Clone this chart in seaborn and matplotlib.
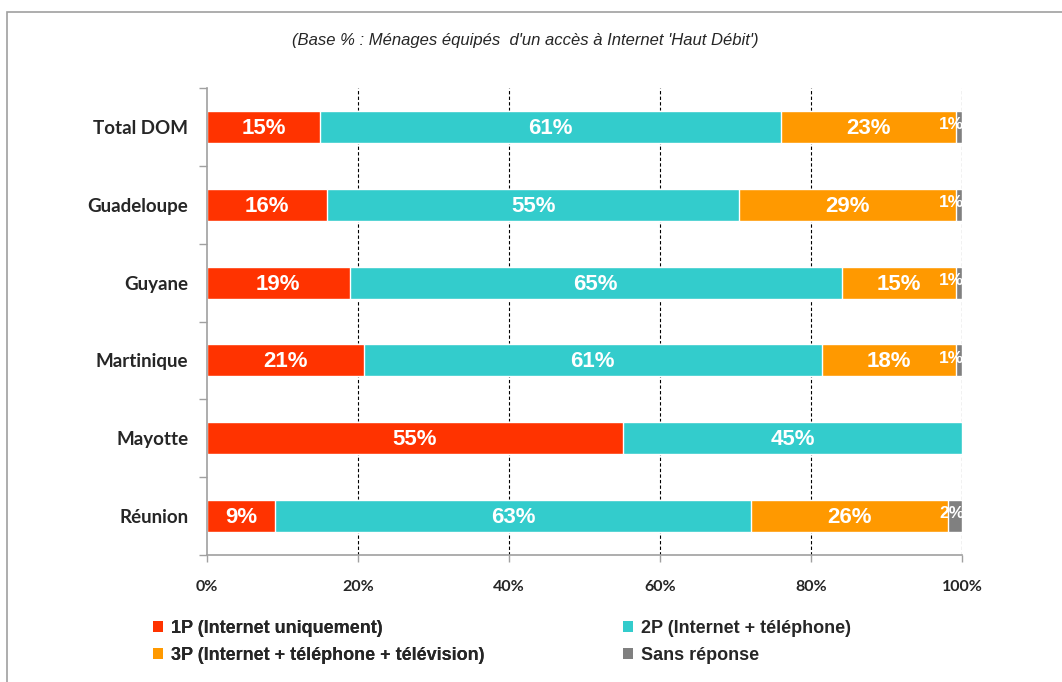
import matplotlib
matplotlib.use("Agg")
import matplotlib.pyplot as plt
import seaborn as sns
import numpy as np
from matplotlib.patches import Patch, Rectangle

# --- Données ---
regions = ["Total DOM", "Guadeloupe", "Guyane", "Martinique", "Mayotte", "Réunion"]
p1 = [15.0, 15.9, 18.9, 20.8, 55.1, 9.0]      # 1P (Internet uniquement)
p2 = [61.0, 54.6, 65.2, 60.6, 44.9, 63.1]     # 2P (Internet + téléphone)
p3 = [23.2, 28.7, 15.1, 17.8, 0.0, 26.0]      # 3P (Internet + téléphone + télévision)
sr = [0.8, 0.8, 0.8, 0.8, 0.0, 1.9]           # Sans réponse

series_labels = ["1P (Internet uniquement)", "2P (Internet + téléphone)",
                 "3P (Internet + téléphone + télévision)", "Sans réponse"]
couleurs = ["#FF3300", "#33CCCC", "#FF9900", "#808080"]
xticks = [0, 20, 40, 60, 80, 100]

sns.set_theme(style="white")
plt.rcParams["font.family"] = ["Liberation Sans", "DejaVu Sans"]

fig = plt.figure(figsize=(10.62, 6.82), dpi=100)
ax = fig.add_axes([207 / 1062, 1 - 555 / 682, 755 / 1062, 467 / 682])

# empilement : on trace les cumuls du plus grand au plus petit
series = [np.array(p1), np.array(p2), np.array(p3), np.array(sr)]
cumul = np.cumsum(series, axis=0)
for i in range(3, -1, -1):
    sns.barplot(x=cumul[i], y=regions, color=couleurs[i], orient="h",
                width=0.41, saturation=1, ax=ax, zorder=2)

# étiquettes des segments
for j in range(len(regions)):
    gauche = 0
    for i, s in enumerate(series):
        v = s[j]
        if v > 0:
            txt = f"{int(round(v))}%"
            if v < 3:
                ax.text(100.3, j - 0.03, txt, ha="right", va="center", color="white",
                        fontsize=12.5, fontweight="bold", zorder=4)
            else:
                ax.text(gauche + v / 2, j + 0.02, txt, ha="center", va="center", color="white",
                        fontsize=16, fontweight="bold", zorder=4)
        gauche += v

ax.set_xlim(0, 100)
ax.set_ylim(5.5, -0.5)
ax.set_xticks(xticks)
ax.set_xticklabels([f"{t}%" for t in xticks], fontsize=11.5, fontweight="bold",
                   family=["Lato", "DejaVu Sans"])
ax.set_yticks(range(len(regions)))
ax.set_yticklabels(regions, fontsize=13.5, fontweight="bold", family=["Lato", "DejaVu Sans"])
ax.set_yticks(np.arange(-0.5, len(regions)), minor=True)
ax.tick_params(axis="y", which="major", length=0, pad=13.5)
ax.tick_params(axis="y", which="minor", length=6, color="#A0A0A0", width=1, left=True)
ax.tick_params(axis="x", which="major", length=5, color="#A0A0A0", width=1, bottom=True, pad=13)
ax.set_xlabel("")
ax.set_ylabel("")

for k in ["top", "right"]:
    ax.spines[k].set_visible(False)
for k in ["left", "bottom"]:
    ax.spines[k].set_color("#A0A0A0")
    ax.spines[k].set_linewidth(1.2)

ax.set_axisbelow(True)
for t in xticks[1:]:
    ax.axvline(t, color="black", linestyle=(0, (3, 2)), linewidth=0.8, zorder=1)

fig.text(525 / 1062, 1 - 40 / 682,
         "(Base % : Ménages équipés  d'un accès à Internet 'Haut Débit')",
         ha="center", va="center", fontsize=12, style="italic",
         family=["Liberation Sans Narrow", "Liberation Sans"])

# légende en deux blocs
poignees = [Patch(facecolor=c, edgecolor="none") for c in couleurs]
leg_font = {"size": 13, "weight": "bold", "family": ["Liberation Sans Narrow", "Liberation Sans"]}
leg1 = fig.legend([poignees[0], poignees[2]], [series_labels[0], series_labels[2]],
                  loc="center left", bbox_to_anchor=(146 / 1062, 1 - 642 / 682),
                  frameon=False, prop=leg_font, handlelength=0.55, handleheight=0.55,
                  handletextpad=0.45, labelspacing=0.55, borderaxespad=0)
fig.legend([poignees[1], poignees[3]], [series_labels[1], series_labels[3]],
           loc="center left", bbox_to_anchor=(616 / 1062, 1 - 642 / 682),
           frameon=False, prop=leg_font, handlelength=0.55, handleheight=0.55,
           handletextpad=0.45, labelspacing=0.55, borderaxespad=0)
fig.add_artist(leg1)

# cadre du graphique
fig.add_artist(Rectangle((7 / 1062, -0.05), 1.1, 1 - 12 / 682 + 0.05, transform=fig.transFigure,
                         fill=False, edgecolor="#A0A0A0", linewidth=1.2))

fig.savefig("out.png", dpi=100)
